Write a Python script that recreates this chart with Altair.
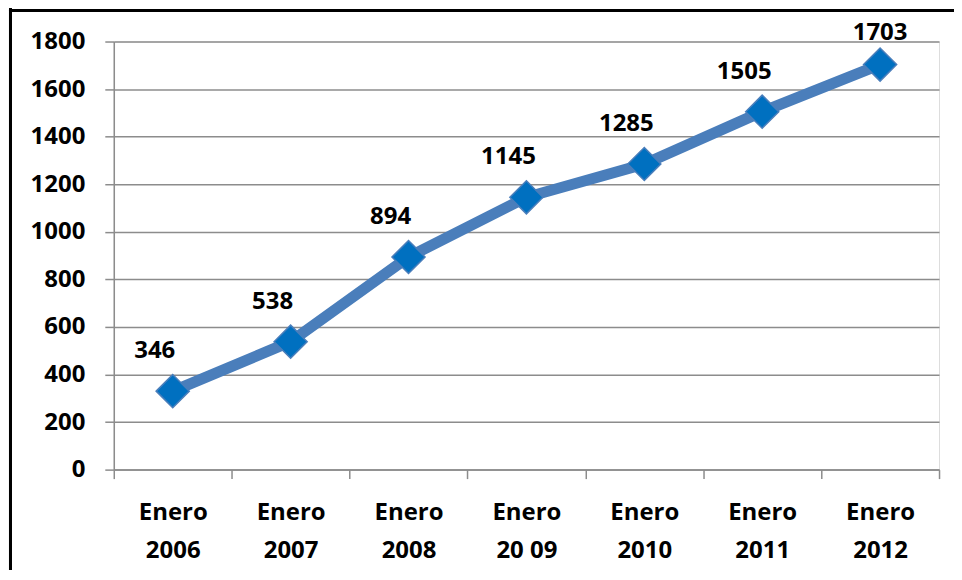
import altair as alt
import pandas as pd

categories = ["Enero\n2006", "Enero\n2007", "Enero\n2008", "Enero\n20 09",
              "Enero\n2010", "Enero\n2011", "Enero\n2012"]
values = [330, 538, 894, 1145, 1285, 1505, 1703]
label_texts = ["346", "538", "894", "1145", "1285", "1505", "1703"]

df = pd.DataFrame({"cat": categories, "val": values, "lab": label_texts,
                   "idx": list(range(len(categories)))})

FONT = "Open Sans"
GRID = "#8c8c8c"

x_enc = alt.X("cat:N", sort=categories, bandPosition=0.5,
              scale=alt.Scale(type="band", paddingInner=0, paddingOuter=0),
              axis=alt.Axis(title=None, labelAngle=0, tickBand="extent",
                            labelExpr="split(datum.label, '\\n')",
                            labelFont=FONT, labelFontSize=24, labelFontWeight="bold",
                            labelColor="black", labelLineHeight=38, labelPadding=22,
                            tickSize=9, tickColor=GRID, tickWidth=1.5,
                            domainColor=GRID, domainWidth=1.5, grid=False))
y_enc = alt.Y("val:Q", scale=alt.Scale(domain=[0, 1800], nice=False),
              axis=alt.Axis(title=None, values=list(range(0, 1801, 200)), format="d",
                            labelFont=FONT, labelFontSize=24, labelFontWeight="bold",
                            labelColor="black", labelPadding=20,
                            tickSize=9, tickColor=GRID, tickWidth=1.5,
                            domainColor=GRID, domainWidth=1.5,
                            grid=True, gridColor=GRID, gridWidth=1.5))

base = alt.Chart(df)

line = base.mark_line(color="#4a7ebb", strokeWidth=11).encode(x=x_enc, y=y_enc)
pts = base.mark_point(shape="diamond", filled=True, size=1100, color="#0070c0",
                      stroke="#4a7ebb", strokeWidth=1.5, opacity=1).encode(x=x_enc, y=y_enc)

txt_style = dict(font=FONT, fontSize=24, fontWeight="bold", color="black",
                 align="center", baseline="middle")
labels_main = base.transform_filter("datum.idx < 6").mark_text(dx=-18, dy=-40, **txt_style).encode(
    x=x_enc, y=y_enc, text="lab:N")
labels_last = base.transform_filter("datum.idx == 6").mark_text(dx=0, dy=-32, **txt_style).encode(
    x=x_enc, y=y_enc, text="lab:N")

frame_left = alt.Chart(df).mark_rule(color="black", strokeWidth=3).encode(
    x=alt.value(-103.5), y=alt.value(-33), y2=alt.value(560))
frame_top = alt.Chart(df).mark_rule(color="black", strokeWidth=2.5).encode(
    x=alt.value(-105), x2=alt.value(860), y=alt.value(-31))

chart = alt.layer(line, pts, labels_main, labels_last, frame_left, frame_top).properties(
    width=827, height=429,
    autosize=alt.AutoSizeParams(type="none"),
    padding={"left": 106, "top": 33, "right": 15, "bottom": 100},
).configure_view(stroke=None).configure(background="white")

chart.save("out.html", embed_options={"renderer": "svg", "actions": False})
